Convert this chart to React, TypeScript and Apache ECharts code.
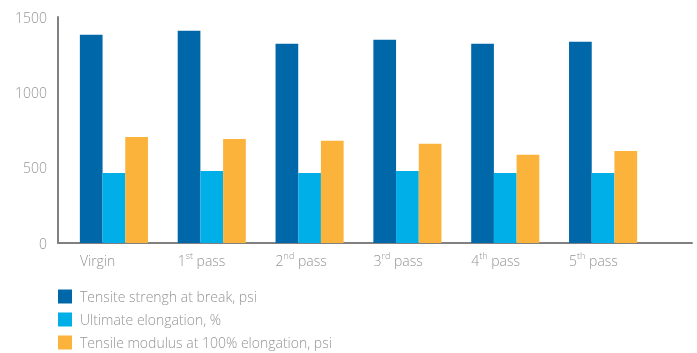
import React, { useEffect, useRef } from "react";
import * as echarts from "echarts";

const categories = ["Virgin", "1st pass", "2nd pass", "3rd pass", "4th pass", "5th pass"];
const tensileStrength = [1382, 1409, 1322, 1349, 1322, 1336];
const ultimateElongation = [465, 478, 465, 478, 465, 465];
const tensileModulus = [704, 691, 678, 658, 585, 611];
const seriesNames = [
  "Tensite strengh at break, psi",
  "Ultimate elongation, %",
  "Tensile modulus at 100% elongation, psi",
];
const colors = ["#0068a8", "#00aee8", "#fbb33b"];

const FONT = "'Open Sans', 'Noto Sans', sans-serif";
const GREY = "#949494";
const AXIS = "#808080";

export default function App() {
  const ref = useRef<HTMLDivElement>(null);
  useEffect(() => {
    const chart = echarts.init(ref.current!, null, { renderer: "svg" });
    const labelFormatter = (v: string) => {
      const m = v.match(/^(\d)(st|nd|rd|th) (.*)$/);
      if (m) return `{n|${m[1]}}{s|${m[2]}}{n| ${m[3]}}`;
      return `{n|${v}}`;
    };
    chart.setOption({
      animation: false,
      textStyle: { fontFamily: FONT },
      grid: [
        { left: 65, width: 587, top: 17, bottom: 110, containLabel: false },
        { left: 58, right: 5, top: 17, bottom: 110, containLabel: false },
      ],
      xAxis: [
        {
          type: "category",
          gridIndex: 0,
          data: categories,
          axisLine: { show: false },
          axisTick: { show: false },
          axisLabel: {
            interval: 0,
            margin: 8,
            width: 68,
            align: "center",
            formatter: labelFormatter,
            rich: {
              n: { fontSize: 14, color: GREY, fontFamily: FONT, fontWeight: 300, align: "left", lineHeight: 16, verticalAlign: "bottom" },
              s: { fontSize: 9, color: GREY, fontFamily: FONT, fontWeight: 300, align: "left", lineHeight: 16, verticalAlign: "top" },
            },
          },
        },
        {
          type: "category",
          gridIndex: 1,
          data: [""],
          axisLine: { show: true, lineStyle: { color: AXIS, width: 2 } },
          axisTick: { show: false },
          axisLabel: { show: false },
        },
      ],
      yAxis: [
        {
          type: "value",
          gridIndex: 0,
          min: 0,
          max: 1500,
          interval: 500,
          offset: 7,
          axisLine: { show: true, lineStyle: { color: AXIS, width: 2 } },
          axisTick: { show: false },
          splitLine: { show: false },
          axisLabel: {
            color: GREY,
            fontSize: 14,
            fontWeight: 300,
            fontFamily: FONT,
            margin: 11,
            formatter: (v: number) => String(v),
          },
        },
        {
          type: "value",
          gridIndex: 1,
          min: 0,
          max: 1,
          show: false,
        },
      ],
      legend: {
        orient: "vertical",
        left: 58,
        top: 289,
        padding: 0,
        itemWidth: 14,
        itemHeight: 14,
        itemGap: 8,
        icon: "rect",
        textStyle: { color: GREY, fontSize: 14, fontWeight: 300, fontFamily: FONT, lineHeight: 15, padding: [0, 0, 0, 3] },
        data: seriesNames,
      },
      series: [tensileStrength, ultimateElongation, tensileModulus].map((d, i) => ({
        type: "bar",
        name: seriesNames[i],
        xAxisIndex: 0,
        yAxisIndex: 0,
        data: d,
        barWidth: 22.7,
        barGap: "0%",
        itemStyle: { color: colors[i] },
      })),
    });
    return () => chart.dispose();
  }, []);
  return <div ref={ref} style={{ position: "fixed", left: 0, top: 0, width: 697, height: 353 }} />;
}
